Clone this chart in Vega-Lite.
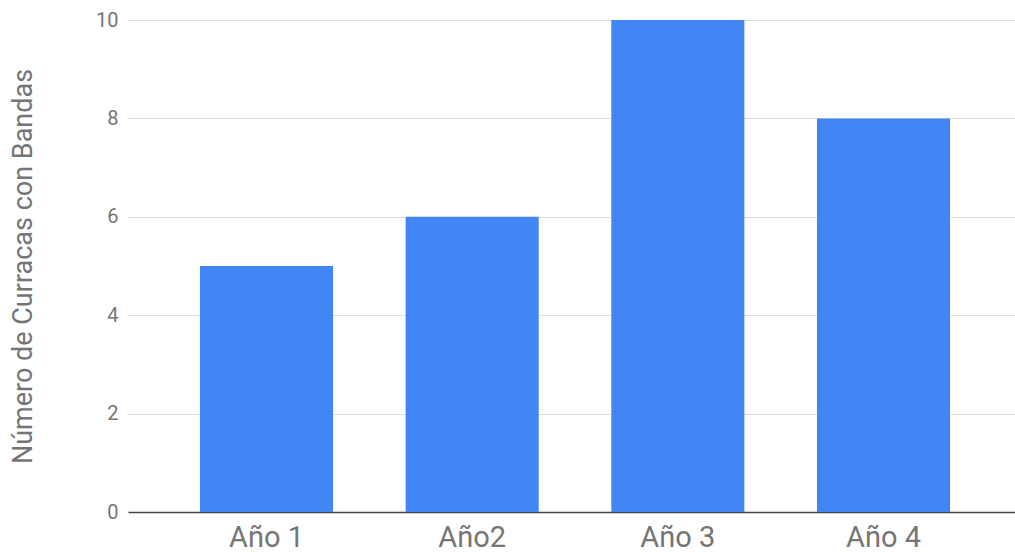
{
  "$schema": "https://vega.github.io/schema/vega-lite/v6.json",
  "autosize": {"type": "none"},
  "width": 894,
  "height": 492,
  "padding": {"left": 128, "top": 20, "right": 0, "bottom": 40},
  "background": "white",
  "data": {"values": [
    {"year": "Año 1", "count": 5},
    {"year": "Año2", "count": 6},
    {"year": "Año 3", "count": 10},
    {"year": "Año 4", "count": 8}
  ]},
  "mark": {"type": "bar", "color": "#4285F4"},
  "encoding": {
    "x": {"field": "year", "type": "nominal", "sort": null,
      "scale": {"paddingInner": 0.353, "paddingOuter": 0.35},
      "axis": {"title": null, "labelAngle": 0, "labelFont": "Roboto", "labelFontSize": 29, "labelColor": "#757575", "ticks": false, "domainColor": "#444444", "domainWidth": 1.5, "labelPadding": 11}},
    "y": {"field": "count", "type": "quantitative",
      "scale": {"domain": [0, 10]},
      "axis": {"title": "Número de Curracas con Bandas", "titleFont": "Roboto", "titleFontSize": 27, "titleFontWeight": "normal", "titleColor": "#757575", "titlePadding": 58,
        "values": [0, 2, 4, 6, 8, 10], "labelFont": "Roboto", "labelFontSize": 20, "labelColor": "#757575", "ticks": false, "domain": false, "labelPadding": 10, "gridColor": "#e0e0e0"}}
  },
  "config": {"view": {"stroke": null}}
}
